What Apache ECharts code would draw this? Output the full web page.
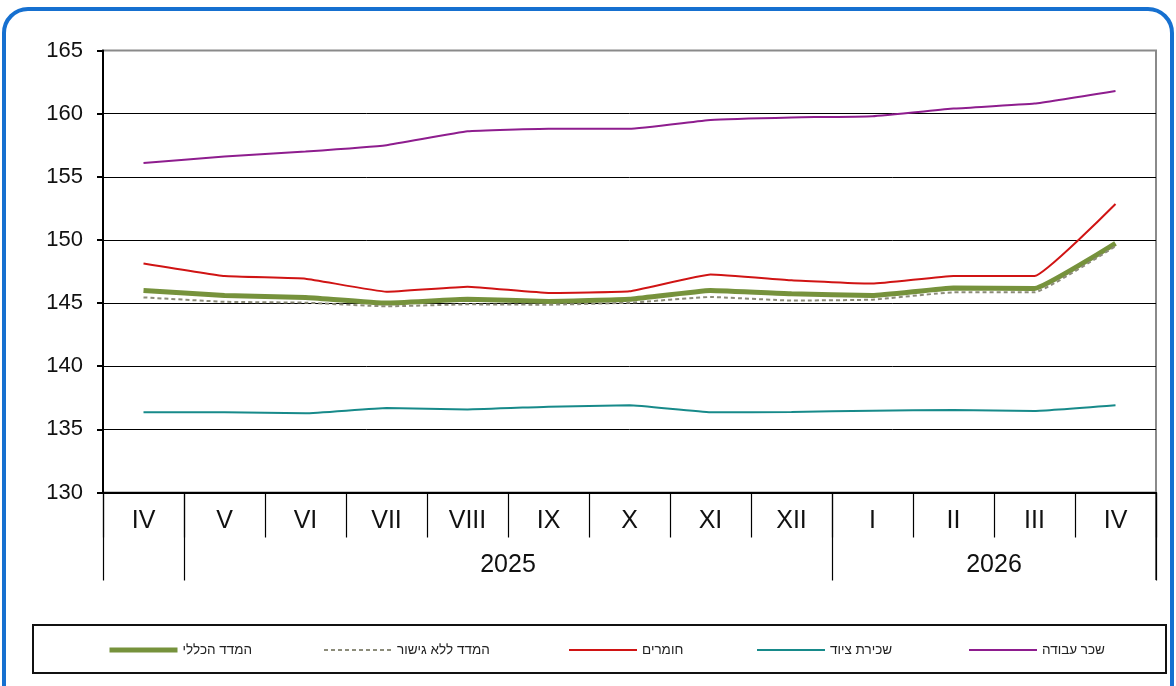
<!DOCTYPE html>
<html>
<head>
<meta charset="utf-8">
<script src="https://cdn.jsdelivr.net/npm/echarts@6/dist/echarts.min.js"></script>
<style>
html,body{margin:0;padding:0;background:#fff;}
#c{width:1176px;height:686px;}
</style>
</head>
<body>
<div id="c"></div>
<script>
var months = ['IV','V','VI','VII','VIII','IX','X','XI','XII','I','II','III','IV'];
var yearLabels = ['2025','2026'];
var yearLabelPos = [5, 11];
var yearSeparators = [0, 1, 9, 13];
var yTicks = [130, 135, 140, 145, 150, 155, 160, 165];

var names = ['המדד הכללי','המדד ללא גישור','חומרים','שכירת ציוד','שכר עבודה'];
var generalIdx   = [146.0,145.6,145.45,145.0,145.3,145.13,145.3,146.0,145.74,145.6,146.2,146.15,149.73];
var unlinkedIdx  = [145.45,145.1,145.03,144.74,144.9,144.87,145.03,145.48,145.2,145.27,145.85,145.85,149.5];
var materials    = [148.14,147.14,146.93,145.9,146.3,145.8,145.93,147.26,146.8,146.54,147.15,147.15,152.85];
var equipment    = [136.35,136.35,136.27,136.69,136.58,136.8,136.9,136.35,136.37,136.48,136.53,136.45,136.9];
var labor        = [156.1,156.6,157.0,157.5,158.6,158.8,158.8,159.5,159.7,159.8,160.4,160.8,161.8];

var colors = ['#76923C','#8c8c7a','#D01414','#178A8A','#8E1D8E'];
var widths = [5, 2, 2, 2, 2];
var FONT = "'Liberation Sans', Arial, 'DejaVu Sans', sans-serif";

var chart = echarts.init(document.getElementById('c'));

var legendLefts = [107, 323, 568, 756, 968];
var legends = names.map(function(n, i){
  return {
    data: [n], left: legendLefts[i], top: 643, padding: 0,
    itemWidth: 68, itemHeight: 14, itemGap: 0,
    itemStyle: {opacity: 0},
    lineStyle: {width: widths[i]},
    textStyle: {fontFamily: FONT, fontSize: 13.5, color: '#222'},
    selectedMode: false
  };
});

var option = {
  animation: false,
  backgroundColor: '#fff',
  grid: {left: 103, right: 20, top: 50.5, bottom: 193.5, show: true, borderColor: '#8a8a8a', borderWidth: 2, containLabel: false},
  legend: legends,
  graphic: [
    {type: 'rect', shape: {x: 4, y: 9, width: 1168, height: 720, r: 24}, style: {fill: 'none', stroke: '#1670D0', lineWidth: 4}, z: 10},
    {type: 'rect', shape: {x: 33, y: 625, width: 1133, height: 48}, style: {fill: 'none', stroke: '#111', lineWidth: 2}, z: 10},
    {type: 'line', shape: {x1: 1156, y1: 492, x2: 1156, y2: 580}, style: {stroke: '#000', lineWidth: 1.2}, z: 10}
  ],
  xAxis: [
    {
      type: 'category', data: months, boundaryGap: true, position: 'bottom',
      axisLine: {show: true, lineStyle: {color: '#000', width: 2}},
      axisTick: {show: true, interval: 0, length: 45, lineStyle: {color: '#000', width: 1.2}},
      axisLabel: {interval: 0, margin: 16, fontFamily: FONT, fontSize: 25, color: '#111'},
      splitLine: {show: false}
    },
    {
      type: 'value', min: 0, max: 13, position: 'bottom',
      axisLine: {show: false},
      axisTick: {show: true, customValues: yearSeparators, length: 88, lineStyle: {color: '#000', width: 1.2}},
      axisLabel: {show: true, customValues: yearLabelPos, margin: 60, fontFamily: FONT, fontSize: 25, color: '#111',
        formatter: function(v){ var k = yearLabelPos.indexOf(v); return k >= 0 ? yearLabels[k] : ''; }},
      splitLine: {show: false}
    }
  ],
  yAxis: {
    type: 'value', min: yTicks[0], max: yTicks[yTicks.length-1], interval: 5,
    axisLine: {show: true, lineStyle: {color: '#000', width: 2}},
    axisTick: {show: true, length: 6, lineStyle: {color: '#000', width: 2}},
    axisLabel: {margin: 20, fontFamily: FONT, fontSize: 22, color: '#111'},
    splitLine: {show: true, showMaxLine: false, lineStyle: {color: '#000', width: 1}}
  },
  series: [
    {name: names[4], type: 'line', data: labor, symbol: 'none', smooth: 0.1, lineStyle: {color: colors[4], width: widths[4]}, itemStyle: {color: colors[4]}, z: 3},
    {name: names[2], type: 'line', data: materials, symbol: 'none', smooth: 0.1, lineStyle: {color: colors[2], width: widths[2]}, itemStyle: {color: colors[2]}, z: 3},
    {name: names[3], type: 'line', data: equipment, symbol: 'none', smooth: 0.1, lineStyle: {color: colors[3], width: widths[3]}, itemStyle: {color: colors[3]}, z: 3},
    {name: names[0], type: 'line', data: generalIdx, symbol: 'none', smooth: 0.1, lineStyle: {color: colors[0], width: widths[0]}, itemStyle: {color: colors[0]}, z: 4},
    {name: names[1], type: 'line', data: unlinkedIdx, symbol: 'none', smooth: 0.1, lineStyle: {color: colors[1], width: widths[1], type: [4, 3]}, itemStyle: {color: colors[1]}, z: 5}
  ]
};
chart.setOption(option);
</script>
</body>
</html>
